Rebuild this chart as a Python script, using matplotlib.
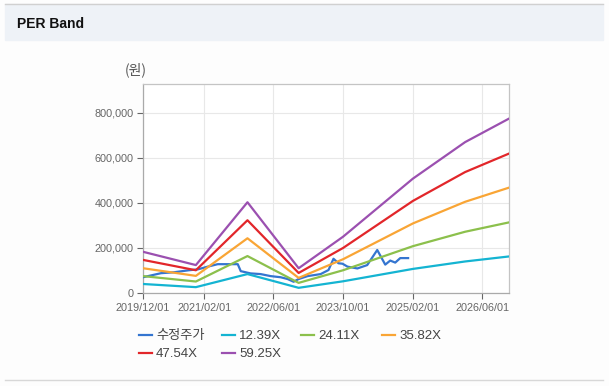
import matplotlib
matplotlib.use("Agg")
import matplotlib.pyplot as plt
import matplotlib.dates as mdates
from matplotlib.patches import Rectangle
from matplotlib.lines import Line2D
from matplotlib.ticker import FuncFormatter
import pandas as pd

plt.rcParams['font.family'] = ['Liberation Sans', 'Noto Sans CJK KR', 'DejaVu Sans']

# PER band lines (in won)
band_dates = ["2019-12-01", "2020-12-05", "2021-12-01", "2022-11-24",
              "2023-10-01", "2025-02-01", "2026-02-01", "2026-12-01"]
per_12 = [40000, 26000, 84000, 23000, 52000, 107000, 140000, 162000]
per_24 = [75000, 51000, 164000, 45000, 101000, 208000, 272000, 313000]
per_35 = [110000, 76000, 243000, 67000, 150000, 309000, 405000, 467000]
per_47 = [147000, 101000, 323000, 89000, 200000, 409000, 537000, 618000]
per_59 = [183000, 124000, 403000, 110000, 250000, 508000, 670000, 773000]

# adjusted share price
price_dates = ["2019-12-01", "2020-04-05", "2020-07-04", "2020-10-17", "2020-12-19",
               "2021-02-26", "2021-05-07", "2021-09-24", "2021-10-15", "2021-12-23",
               "2022-03-03", "2022-05-12", "2022-07-21", "2022-09-08", "2022-10-20",
               "2022-11-24", "2023-01-26", "2023-04-27", "2023-06-21", "2023-07-26",
               "2023-08-30", "2023-09-27", "2023-11-01", "2024-01-09", "2024-03-18",
               "2024-05-27", "2024-07-22", "2024-08-26", "2024-09-30", "2024-11-04",
               "2024-12-29"]
price = [70000, 88000, 92000, 101000, 105000,
         117000, 128000, 128000, 97000, 87000,
         84000, 75000, 70000, 62000, 50000,
         62000, 75000, 84000, 102000, 152000,
         132000, 130000, 117000, 109000, 124000,
         191000, 126000, 144000, 135000, 155000,
         155000]

labels = ["수정주가", "12.39X", "24.11X", "35.82X", "47.54X", "59.25X"]
colors = ["#3475d0", "#14b4d2", "#8cc04c", "#f9a535", "#e2262a", "#9b50b0"]
x_ticks = ["2019-12-01", "2021-02-01", "2022-06-01", "2023-10-01", "2025-02-01", "2026-06-01"]

fig = plt.figure(figsize=(6.09, 3.86), dpi=100)
fig.patch.set_facecolor("#fdfdfd")

# header strip
W, H = 609, 386
fig.patches.append(Rectangle((5 / W, 1 - 40 / H), 598 / W, 36 / H,
                             transform=fig.transFigure, color="#eef2f7", zorder=0))
fig.lines.append(Line2D([5 / W, 603 / W], [1 - 4 / H, 1 - 4 / H],
                        transform=fig.transFigure, color="#d0d0d0", lw=1))
fig.lines.append(Line2D([5 / W, 603 / W], [1 - 380 / H, 1 - 380 / H],
                        transform=fig.transFigure, color="#d8d8d8", lw=1))
fig.text(17 / W, 1 - 24 / H, "PER Band", fontsize=10, fontweight="bold",
         color="#111111", va="center")

ax = fig.add_axes([143 / W, 1 - 293 / H, 366 / W, 209 / H])
ax.set_facecolor("white")

bd = pd.to_datetime(band_dates)
pdt = pd.to_datetime(price_dates)
ax.plot(pdt, price, color=colors[0], lw=1.6, label=labels[0], zorder=3)
for vals, lab, c in zip([per_12, per_24, per_35, per_47, per_59], labels[1:], colors[1:]):
    ax.plot(bd, vals, color=c, lw=1.6, label=lab, zorder=3)

ax.set_xlim(pd.Timestamp("2019-12-01"), pd.Timestamp("2026-12-05"))
ax.set_ylim(0, 928000)
ax.set_xticks(pd.to_datetime(x_ticks))
ax.xaxis.set_major_formatter(mdates.DateFormatter("%Y/%m/%d"))
ax.set_yticks([0, 200000, 400000, 600000, 800000])
ax.yaxis.set_major_formatter(FuncFormatter(lambda v, p: f"{int(v):,}"))
ax.tick_params(labelsize=7.8, colors="#666666", length=4, width=0.8, pad=3)
ax.grid(True, color="#e8e8e8", lw=0.8, zorder=0)
for s in ax.spines.values():
    s.set_color("#c4c4c4")
    s.set_linewidth(0.9)
ax.spines["left"].set_color("#aaaaaa")
ax.spines["bottom"].set_color("#aaaaaa")

fig.text(136 / W, 1 - 70 / H, "(원)", fontsize=10, color="#555555",
         family=["Noto Sans CJK KR", "DejaVu Sans"], ha="center", va="center")

# legend: four columns placed below the plot
handles, _ = ax.get_legend_handles_labels()
cols = [[0, 4], [1, 5], [2], [3]]
col_x = [139, 222, 301, 382]
for idx, cx in zip(cols, col_x):
    fig.legend([handles[i] for i in idx], [labels[i] for i in idx],
               loc="upper left", bbox_to_anchor=(cx / W, 1 - 330 / H),
               frameon=False, fontsize=9.5, handlelength=1.0,
               handletextpad=0.3, labelspacing=0.45, borderpad=0,
               borderaxespad=0, labelcolor="#444444")

fig.savefig("out.png", dpi=100)
